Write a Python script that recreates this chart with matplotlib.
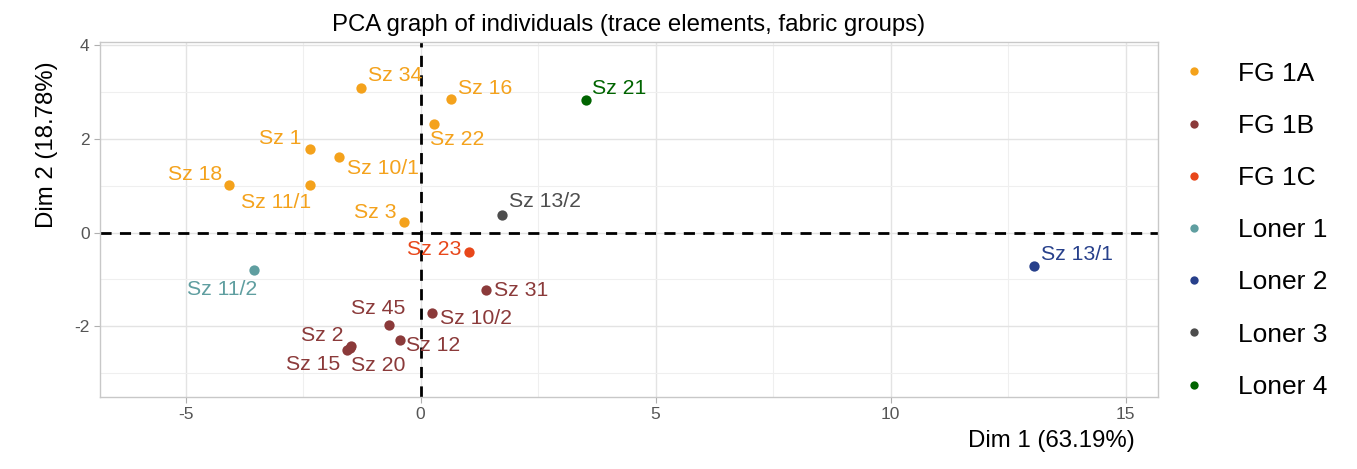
import matplotlib.pyplot as plt
from matplotlib.lines import Line2D

plt.rcParams['font.family'] = ['Liberation Sans', 'DejaVu Sans']
plt.rcParams['axes.unicode_minus'] = False

# PCA coordinates of the individuals (trace elements)
names = ["Sz 34", "Sz 16", "Sz 22", "Sz 1", "Sz 10/1", "Sz 18", "Sz 11/1", "Sz 3",
         "Sz 13/2", "Sz 21", "Sz 23", "Sz 11/2", "Sz 31", "Sz 10/2", "Sz 45",
         "Sz 12", "Sz 2", "Sz 15", "Sz 20", "Sz 13/1"]
dim1 = [-1.26, 0.64, 0.28, -2.35, -1.74, -4.08, -2.36, -0.36,
        1.73, 3.53, 1.03, -3.55, 1.39, 0.25, -0.68,
        -0.43, -1.48, -1.56, -1.51, 13.05]
dim2 = [3.09, 2.86, 2.32, 1.79, 1.61, 1.02, 1.02, 0.23,
        0.38, 2.84, -0.41, -0.80, -1.23, -1.71, -1.97,
        -2.29, -2.42, -2.52, -2.46, -0.72]
group = ["FG 1A", "FG 1A", "FG 1A", "FG 1A", "FG 1A", "FG 1A", "FG 1A", "FG 1A",
         "Loner 3", "Loner 4", "FG 1C", "Loner 1", "FG 1B", "FG 1B", "FG 1B",
         "FG 1B", "FG 1B", "FG 1B", "FG 1B", "Loner 2"]

groups = ["FG 1A", "FG 1B", "FG 1C", "Loner 1", "Loner 2", "Loner 3", "Loner 4"]
colors = ["#F4A21C", "#8B3A3A", "#E8471A", "#5F9EA0", "#27408B", "#4D4D4D", "#006400"]
col = dict(zip(groups, colors))

# label placement (pixel offset from the point, horizontal alignment)
label_pos = {
    "Sz 34": (7, 12, "left"), "Sz 16": (7, 10, "left"), "Sz 22": (23, -16, "center"),
    "Sz 1": (-9, 10, "right"), "Sz 10/1": (8, -11, "left"), "Sz 18": (-7, 10, "right"),
    "Sz 11/1": (-34, -18, "center"), "Sz 3": (-7, 9, "right"), "Sz 13/2": (7, 13, "left"),
    "Sz 21": (6, 11, "left"), "Sz 23": (-8, 2, "right"), "Sz 11/2": (-32, -20, "center"),
    "Sz 31": (8, 0, "left"), "Sz 10/2": (8, -6, "left"), "Sz 45": (-10, 16, "center"),
    "Sz 12": (6, -6, "left"), "Sz 2": (-8, 10, "right"), "Sz 15": (-7, -14, "right"),
    "Sz 20": (1, -18, "left"), "Sz 13/1": (7, 12, "left"),
}

fig = plt.figure(figsize=(13.57, 4.69), dpi=100)
ax = fig.add_axes([0.0737, 0.154, 0.7797, 0.7564])

ax.set_xlim(-6.82, 15.69)
ax.set_ylim(-3.51, 4.07)
ax.set_xticks([-5, 0, 5, 10, 15])
ax.set_xticks([-2.5, 2.5, 7.5, 12.5], minor=True)
ax.set_yticks([-2, 0, 2, 4])
ax.set_yticks([-3, -1, 1, 3], minor=True)
ax.grid(which='major', color='#E3E3E3', linewidth=1.0)
ax.grid(which='minor', color='#EFEFEF', linewidth=0.8)
ax.set_axisbelow(True)
for s in ax.spines.values():
    s.set_color('#C8C8C8')
    s.set_linewidth(1.0)
ax.tick_params(which='major', colors='#B0B0B0', labelcolor='#555555', labelsize=12.5, length=4)
ax.tick_params(which='minor', length=0)

ax.axhline(0, color='black', linestyle=(0, (4, 3)), linewidth=2.0, zorder=2)
ax.axvline(0, color='black', linestyle=(0, (4, 3)), linewidth=2.0, zorder=2)

for n, x, y, g in zip(names, dim1, dim2, group):
    ax.scatter(x, y, s=55, color=col[g], zorder=3, linewidths=0)
    dx, dy, ha = label_pos[n]
    ax.annotate(n, (x, y), xytext=(dx, dy), textcoords='offset pixels',
                ha=ha, va='center', fontsize=15.3, color=col[g], zorder=4)

ax.set_title("PCA graph of individuals (trace elements, fabric groups)", fontsize=17.3, pad=8)
ax.set_xlabel("Dim 1 (63.19%)", fontsize=17.3, labelpad=8)
ax.xaxis.set_label_coords(0.978, -0.095)
ax.xaxis.label.set_horizontalalignment('right')
ax.set_ylabel("Dim 2 (18.78%)", fontsize=17.3, labelpad=8)
ax.yaxis.set_label_coords(-0.040, 0.71)

handles = [Line2D([], [], marker='o', linestyle='', markersize=6, color=c, markeredgewidth=0)
           for c in colors]
fig.legend(handles, groups, loc='upper left', bbox_to_anchor=(0.8605, 0.897),
           frameon=False, fontsize=19, labelspacing=1.07, handletextpad=1.15,
           handlelength=1.0, borderpad=0)

fig.savefig("out.png", dpi=100)
